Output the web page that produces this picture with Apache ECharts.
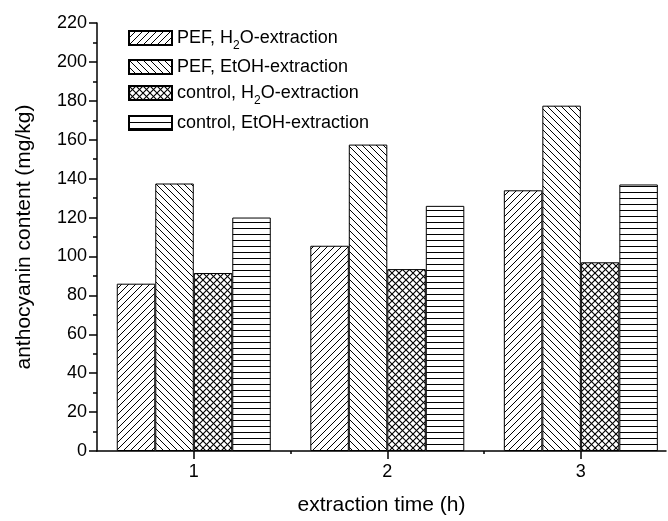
<!DOCTYPE html>
<html>
<head>
<meta charset="utf-8">
<script src="https://cdn.jsdelivr.net/npm/echarts@6/dist/echarts.min.js"></script>
<style>html,body{margin:0;padding:0;background:#fff;}#c{width:668px;height:521px;}</style>
</head>
<body>
<div id="c"></div>
<script>
var xValues = [1, 2, 3];
var seriesNames = ['PEF, H2O-extraction', 'PEF, EtOH-extraction', 'control, H2O-extraction', 'control, EtOH-extraction'];
var pefH2O = [86, 105.5, 134];
var pefEtOH = [137.5, 157.5, 177.5];
var ctrlH2O = [91.5, 93.5, 97];
var ctrlEtOH = [120, 126, 137];
var yTicks = [0, 20, 40, 60, 80, 100, 120, 140, 160, 180, 200, 220];

function makePattern(kind) {
  var s = kind === 'h' ? 6 : 7;
  var c = document.createElement('canvas');
  c.width = s; c.height = s;
  var g = c.getContext('2d');
  g.fillStyle = '#fff'; g.fillRect(0, 0, s, s);
  g.strokeStyle = '#000'; g.lineWidth = 1;
  function fwd() {
    g.beginPath();
    g.moveTo(-1, s + 1); g.lineTo(s + 1, -1);
    g.moveTo(-1, 1); g.lineTo(1, -1);
    g.moveTo(s - 1, s + 1); g.lineTo(s + 1, s - 1);
    g.stroke();
  }
  function back() {
    g.beginPath();
    g.moveTo(-1, -1); g.lineTo(s + 1, s + 1);
    g.moveTo(s - 1, -1); g.lineTo(s + 1, 1);
    g.moveTo(-1, s - 1); g.lineTo(1, s + 1);
    g.stroke();
  }
  if (kind === 'f') fwd();
  else if (kind === 'b') back();
  else if (kind === 'x') { g.lineWidth = 1.1; fwd(); back(); }
  else if (kind === 'h') {
    g.beginPath(); g.moveTo(0, 0.5); g.lineTo(s, 0.5); g.stroke();
  }
  return { image: c, repeat: 'repeat' };
}

var datasets = [pefH2O, pefEtOH, ctrlH2O, ctrlEtOH];
var kinds = ['f', 'b', 'x', 'h'];
var series = datasets.map(function (arr, i) {
  return {
    name: seriesNames[i],
    type: 'bar',
    xAxisIndex: 0,
    barWidth: 38.5,
    barGap: '0%',
    itemStyle: { color: makePattern(kinds[i]), borderColor: '#000', borderWidth: 1 },
    data: xValues.map(function (x, j) { return [x, arr[j]]; })
  };
});

var FF = 'Liberation Sans';
var richText = {
  n: { fontFamily: FF, fontSize: 18, color: '#000', lineHeight: 20, verticalAlign: 'middle' },
  s: { fontFamily: FF, fontSize: 12, color: '#000', lineHeight: 12, padding: [12, 0, 0, 0], verticalAlign: 'top' }
};
function fmt(name) {
  if (name.indexOf('H2O') >= 0) {
    var p = name.split('H2O');
    return '{n|' + p[0] + 'H}{s|2}{n|O' + p[1] + '}';
  }
  return '{n|' + name + '}';
}
var legendTops = [23, 53, 78, 109];
var legends = seriesNames.map(function (nm, i) {
  return {
    data: [nm],
    left: 123,
    top: legendTops[i],
    padding: 5,
    icon: 'rect',
    itemWidth: 43,
    itemHeight: 14,
    selectedMode: false,
    formatter: fmt,
    textStyle: { fontFamily: FF, fontSize: 18, color: '#000', rich: richText }
  };
});

var chart = echarts.init(document.getElementById('c'), null, { renderer: 'canvas' });
chart.setOption({
  animation: false,
  backgroundColor: '#fff',
  legend: legends,
  grid: { left: 97, right: 2, top: 23, bottom: 70, containLabel: false },
  xAxis: [{
    type: 'value',
    min: 0.5,
    max: 3.44,
    name: 'extraction time (h)',
    nameLocation: 'middle',
    nameGap: 44,
    nameTextStyle: { fontFamily: FF, fontSize: 21, color: '#000' },
    axisLine: { show: true, lineStyle: { color: '#000', width: 1.5 } },
    axisTick: { show: true, length: 8, lineStyle: { color: '#000', width: 1.5 }, customValues: xValues },
    axisLabel: { show: true, fontFamily: FF, fontSize: 18, color: '#000', margin: 12, customValues: xValues },
    splitLine: { show: false }
  }, {
    type: 'value',
    min: 0.5,
    max: 3.44,
    position: 'bottom',
    axisLine: { show: false },
    axisTick: { show: true, length: 3, lineStyle: { color: '#000', width: 1.5 }, customValues: [1.5, 2.5] },
    axisLabel: { show: false },
    splitLine: { show: false }
  }],
  yAxis: {
    type: 'value',
    min: 0,
    max: 220,
    interval: 20,
    name: 'anthocyanin content (mg/kg)',
    nameLocation: 'middle',
    nameGap: 62,
    nameTextStyle: { fontFamily: FF, fontSize: 21, color: '#000' },
    axisLine: { show: true, lineStyle: { color: '#000', width: 1.5 } },
    axisTick: { show: true, length: 8, lineStyle: { color: '#000', width: 1.5 } },
    minorTick: { show: true, splitNumber: 2, length: 4, lineStyle: { color: '#000', width: 1.5 } },
    axisLabel: { fontFamily: FF, fontSize: 18, color: '#000', margin: 10,
      formatter: function (v) { return yTicks.indexOf(v) >= 0 ? String(v) : ''; } },
    splitLine: { show: false }
  },
  series: series
});
</script>
</body>
</html>
